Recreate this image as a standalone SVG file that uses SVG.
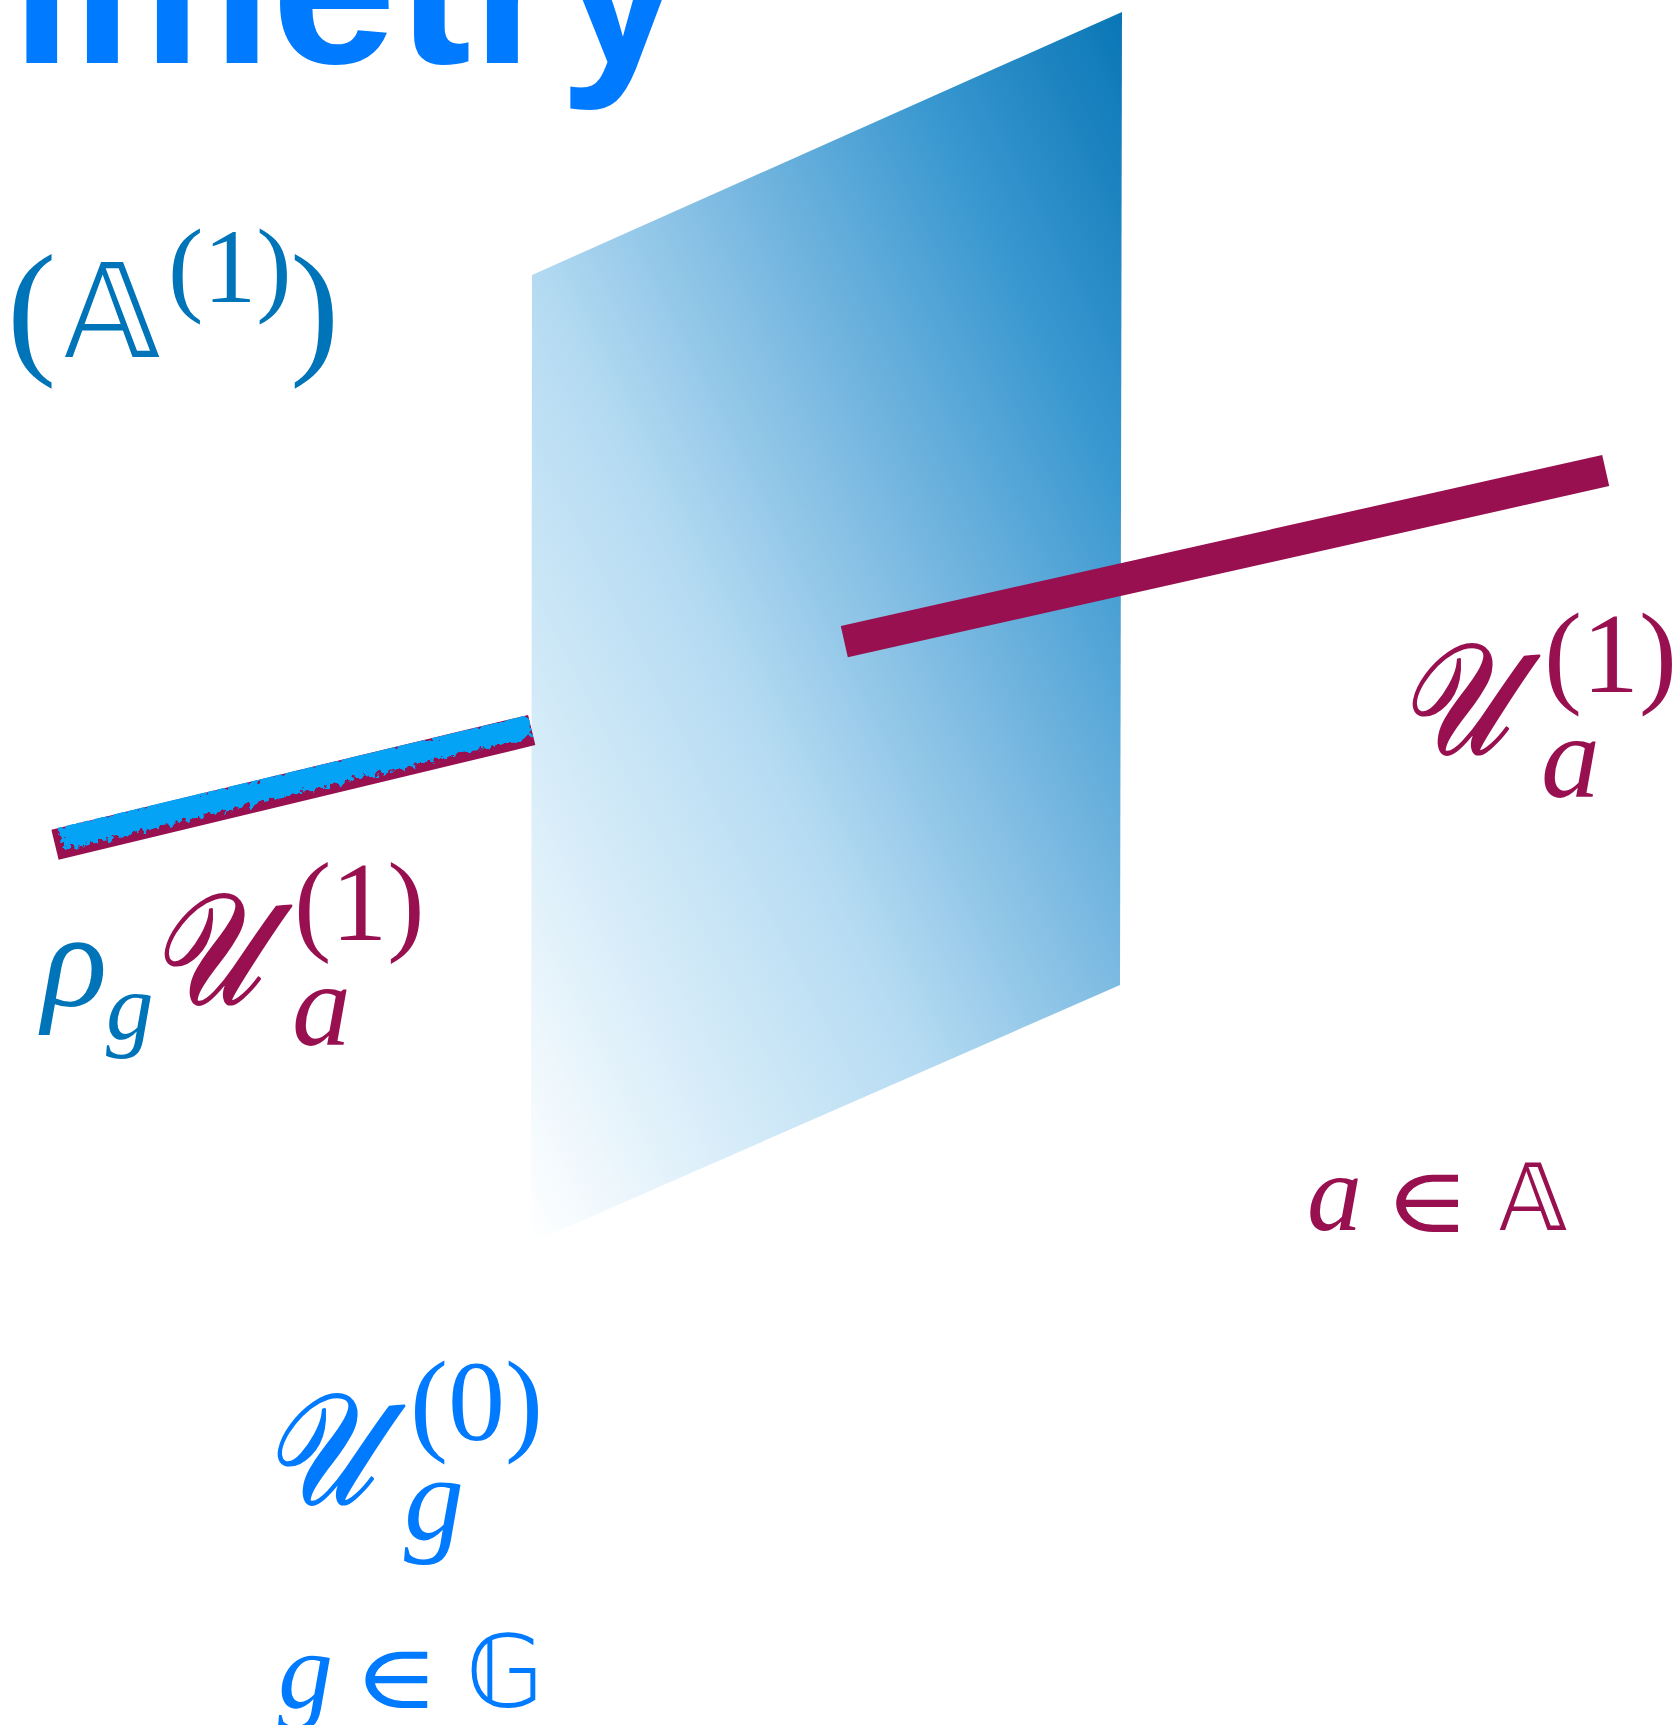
<svg xmlns="http://www.w3.org/2000/svg" width="1674" height="1725" viewBox="0 0 1674 1725">
<defs>
<style>
.ti{font-family:"Liberation Sans",Arial,sans-serif;font-weight:bold;fill:#007aff}
.m{font-family:"Liberation Serif","DejaVu Serif",serif}
.it{font-style:italic}
.cal{font-family:"DejaVu Serif","DejaVu Sans","Noto Sans",serif;font-style:italic;stroke-width:2.6;stroke-linejoin:round}
.bb{font-family:"DejaVu Sans","DejaVu Serif",sans-serif}
.sym{font-family:"DejaVu Serif","DejaVu Sans",serif}
.mag{fill:#98104f}
.dblue{fill:#0074b8}
.blue{fill:#007aff}
.bar{stroke:#98104f;stroke-linecap:butt;fill:none}
</style>
<linearGradient id="planeGrad" gradientUnits="userSpaceOnUse" x1="1122" y1="13" x2="157" y2="495">
<stop offset="0" stop-color="#0a76b6"/>
<stop offset="0.2" stop-color="#3a98d0"/>
<stop offset="0.4" stop-color="#7ab9e1"/>
<stop offset="0.6" stop-color="#b5dbf2"/>
<stop offset="0.8" stop-color="#d8edf9"/>
<stop offset="1" stop-color="#ffffff"/>
</linearGradient>
<clipPath id="leftClip"><polygon points="51.7,829.3 528.3,715 535,745.7 58.3,860"/></clipPath>
<filter id="rough" filterUnits="userSpaceOnUse" x="0" y="650" width="600" height="260" color-interpolation-filters="sRGB">
<feTurbulence type="fractalNoise" baseFrequency="0.16" numOctaves="3" seed="7" result="n"/>
<feDisplacementMap in="SourceGraphic" in2="n" scale="15" xChannelSelector="R" yChannelSelector="G"/>
</filter>
</defs>

<g id="title">
<text class="ti" x="684" y="63" text-anchor="end" font-size="225">Symmetry</text>
</g>

<g id="plane">
<polygon points="532,275 1122,12 1120,985 531,1243" fill="url(#planeGrad)"/>
</g>

<g id="lines">
<line id="line-right" class="bar" x1="844.3" y1="641.7" x2="1605.7" y2="470.5" stroke-width="32"/>
<g id="line-left">
<line class="bar" x1="55" y1="844.7" x2="531.7" y2="730" stroke-width="31"/>
<g clip-path="url(#leftClip)">
<line x1="61.2" y1="838.2" x2="529.2" y2="725.3" stroke="#05a3f5" stroke-width="24" filter="url(#rough)"/>
</g>
</g>
</g>

<g id="label-top-left" class="dblue">
<text class="m" x="7" y="357" font-size="148">(</text>
<text class="bb" x="64" y="357" font-size="130">𝔸</text>
<text class="m" x="168" y="302" font-size="106">(1)</text>
<text class="m" x="290" y="357" font-size="148">)</text>
</g>

<g id="label-right" class="mag">
<text class="cal" stroke="#98104f" transform="translate(1396.6,753) scale(0.82,1.04)" font-size="150">𝒰</text>
<text class="m" x="1544" y="692" font-size="114">(1)</text>
<text class="m it" x="1541" y="797" font-size="118">a</text>
</g>

<g id="label-left">
<text class="m it dblue" x="42" y="1006" font-size="136">ρ</text>
<text class="m it dblue" x="106" y="1039" font-size="95">g</text>
<text class="cal mag" stroke="#98104f" transform="translate(148.6,1003) scale(0.82,1.04)" font-size="150">𝒰</text>
<text class="m mag" x="294" y="940" font-size="112">(1)</text>
<text class="m it mag" x="292" y="1045" font-size="118">a</text>
</g>

<g id="label-a-in-A" class="mag">
<text class="m it" x="1307" y="1230" font-size="110">a</text>
<text class="sym" transform="translate(1384,1232) scale(1.3,1.02)" font-size="90">∈</text>
<text class="bb" x="1499" y="1230" font-size="92">𝔸</text>
</g>

<g id="label-U0" class="blue">
<text class="cal" stroke="#007aff" transform="translate(261.6,1503) scale(0.82,1.04)" font-size="150">𝒰</text>
<text class="m" x="410" y="1440" font-size="114">(0)</text>
<text class="m it" x="404" y="1539" font-size="120">g</text>
</g>

<g id="label-g-in-G" class="blue">
<text class="m it" x="278" y="1708" font-size="110">g</text>
<text class="sym" transform="translate(353,1708) scale(1.3,1.0)" font-size="90">∈</text>
<text class="bb" x="466" y="1707" font-size="100">𝔾</text>
</g>
</svg>
